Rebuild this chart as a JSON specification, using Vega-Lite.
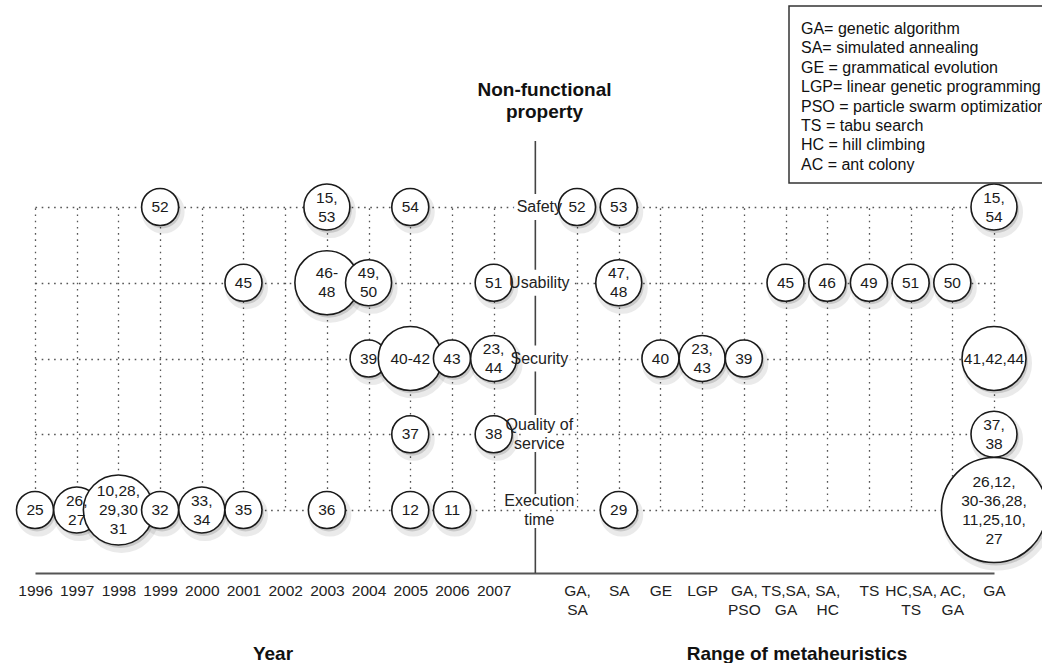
{
  "$schema": "https://vega.github.io/schema/vega-lite/v6.json",
  "width": 995,
  "height": 432,
  "autosize": "none",
  "padding": {"left": 15, "top": 141, "right": 32, "bottom": 90},
  "background": "white",
  "config": {
    "view": {"stroke": null},
    "font": "Liberation Sans",
    "legend": {"strokeWidth": 1.5}
  },
  "datasets": {
    "bubbles": [
      {"x": "1999", "prop": "Safety", "refs": "52", "n": 1},
      {"x": "2003", "prop": "Safety", "refs": "15,\n53", "n": 2},
      {"x": "2005", "prop": "Safety", "refs": "54", "n": 1},
      {"x": "2001", "prop": "Usability", "refs": "45", "n": 1},
      {"x": "2003", "prop": "Usability", "refs": "46-\n48", "n": 3},
      {"x": "2004", "prop": "Usability", "refs": "49,\n50", "n": 2},
      {"x": "2007", "prop": "Usability", "refs": "51", "n": 1},
      {"x": "2004", "prop": "Security", "refs": "39", "n": 1},
      {"x": "2005", "prop": "Security", "refs": "40-42", "n": 3},
      {"x": "2006", "prop": "Security", "refs": "43", "n": 1},
      {"x": "2007", "prop": "Security", "refs": "23,\n44", "n": 2},
      {"x": "2005", "prop": "Quality of service", "refs": "37", "n": 1},
      {"x": "2007", "prop": "Quality of service", "refs": "38", "n": 1},
      {"x": "1996", "prop": "Execution time", "refs": "25", "n": 1},
      {"x": "1997", "prop": "Execution time", "refs": "26,\n27", "n": 2},
      {"x": "1998", "prop": "Execution time", "refs": "10,28,\n29,30\n31", "n": 5},
      {"x": "1999", "prop": "Execution time", "refs": "32", "n": 1},
      {"x": "2000", "prop": "Execution time", "refs": "33,\n34", "n": 2},
      {"x": "2001", "prop": "Execution time", "refs": "35", "n": 1},
      {"x": "2003", "prop": "Execution time", "refs": "36", "n": 1},
      {"x": "2005", "prop": "Execution time", "refs": "12", "n": 1},
      {"x": "2006", "prop": "Execution time", "refs": "11", "n": 1},
      {"x": "GA, SA", "prop": "Safety", "refs": "52", "n": 1},
      {"x": "SA", "prop": "Safety", "refs": "53", "n": 1},
      {"x": "GA", "prop": "Safety", "refs": "15,\n54", "n": 2},
      {"x": "SA", "prop": "Usability", "refs": "47,\n48", "n": 2},
      {"x": "TS,SA, GA", "prop": "Usability", "refs": "45", "n": 1},
      {"x": "SA, HC", "prop": "Usability", "refs": "46", "n": 1},
      {"x": "TS", "prop": "Usability", "refs": "49", "n": 1},
      {"x": "HC,SA, TS", "prop": "Usability", "refs": "51", "n": 1},
      {"x": "AC, GA", "prop": "Usability", "refs": "50", "n": 1},
      {"x": "GE", "prop": "Security", "refs": "40", "n": 1},
      {"x": "LGP", "prop": "Security", "refs": "23,\n43", "n": 2},
      {"x": "GA, PSO", "prop": "Security", "refs": "39", "n": 1},
      {"x": "GA", "prop": "Security", "refs": "41,42,44", "n": 3},
      {"x": "GA", "prop": "Quality of service", "refs": "37,\n38", "n": 2},
      {"x": "SA", "prop": "Execution time", "refs": "29", "n": 1},
      {"x": "GA", "prop": "Execution time", "refs": "26,12,\n30-36,28,\n11,25,10,\n27", "n": 14}
    ],
    "props": [
      {"x": "mid", "prop": "Safety", "label": "Safety"},
      {"x": "mid", "prop": "Usability", "label": "Usability"},
      {"x": "mid", "prop": "Security", "label": "Security"},
      {"x": "mid", "prop": "Quality of service", "label": "Quality of\nservice"},
      {"x": "mid", "prop": "Execution time", "label": "Execution\ntime"}
    ],
    "abbr": [
      {"abbr": "GA= genetic algorithm"},
      {"abbr": "SA= simulated annealing"},
      {"abbr": "GE = grammatical evolution"},
      {"abbr": "LGP= linear genetic programming"},
      {"abbr": "PSO = particle swarm optimization"},
      {"abbr": "TS = tabu search"},
      {"abbr": "HC = hill climbing"},
      {"abbr": "AC = ant colony"}
    ]
  },
  "resolve": {"axis": {"x": "independent"}},
  "layer": [
    {
      "data": {"values": [{"x": "mid"}]},
      "mark": {"type": "rule", "color": "#444", "strokeWidth": 1.6},
      "encoding": {
        "x": {
          "field": "x", "type": "nominal",
          "axis": {
            "orient": "bottom", "labels": false, "ticks": false, "domain": false, "grid": false,
            "title": "Range of metaheuristics", "titleX": 781.5, "titleY": 80,
            "titleAlign": "center", "titleBaseline": "middle", "titleAngle": 0,
            "titleFontSize": 19, "titleFontWeight": "bold", "titleColor": "#111", "titleFont": "Liberation Sans"
          }
        }
      }
    },
    {
      "encoding": {
        "x": {
          "field": "x", "type": "nominal",
          "scale": {
            "type": "point", "padding": 0, "range": [20, 979],
            "domain": ["1996", "1997", "1998", "1999", "2000", "2001", "2002", "2003", "2004", "2005", "2006", "2007", "mid", "GA, SA", "SA", "GE", "LGP", "GA, PSO", "TS,SA, GA", "SA, HC", "TS", "HC,SA, TS", "AC, GA", "GA"]
          },
          "axis": {
            "orient": "bottom",
            "grid": true,
            "gridColor": {"condition": {"test": "datum.value === 'mid'", "value": "rgba(0,0,0,0)"}, "value": "#555"},
            "gridDash": [1.6, 4.6], "gridWidth": 1.3,
            "domain": true, "domainColor": "#555", "domainWidth": 1.8,
            "ticks": false, "tickSize": 0,
            "labelPadding": 10, "labelFontSize": 15.5, "labelColor": "#222", "labelFont": "Liberation Sans",
            "labelExpr": "datum.label === 'mid' ? '' : split(datum.label, ' ')",
            "labelLineHeight": 19, "labelOverlap": false, "labelBound": false, "labelFlush": false, "labelAngle": 0,
            "title": "Year", "titleX": 257.5, "titleY": 80, "titleAlign": "center", "titleBaseline": "middle",
            "titleFontSize": 19, "titleFontWeight": "bold", "titleColor": "#111", "titleFont": "Liberation Sans"
          }
        },
        "y": {
          "field": "prop", "type": "nominal",
          "scale": {
            "type": "point", "padding": 0, "range": [66, 369],
            "domain": ["Safety", "Usability", "Security", "Quality of service", "Execution time"]
          },
          "axis": {
            "grid": true, "gridColor": "#555", "gridDash": [1.6, 4.6], "gridWidth": 1.3,
            "domain": false, "ticks": false, "labels": false,
            "title": ["Non-functional", "property"], "titleAngle": 0, "titleX": 529, "titleY": -52,
            "titleAlign": "center", "titleBaseline": "middle", "titleLineHeight": 22,
            "titleFontSize": 19, "titleFontWeight": "bold", "titleColor": "#111", "titleFont": "Liberation Sans"
          }
        }
      },
      "layer": [
        {
          "data": {"name": "props"},
          "mark": {"type": "point", "shape": "square", "filled": true, "color": "white", "opacity": 1, "size": 676}
        },
        {
          "data": {"name": "props"},
          "transform": [{"filter": "indexof(datum.label, '\\n') < 0"}],
          "mark": {"type": "text", "fill": "white", "stroke": "white", "strokeWidth": 6, "fontSize": 16, "lineBreak": "\n", "lineHeight": 19, "baseline": "middle", "align": "center", "font": "Liberation Sans", "xOffset": 4},
          "encoding": {"text": {"field": "label"}}
        },
        {
          "data": {"name": "props"},
          "transform": [{"filter": "indexof(datum.label, '\\n') >= 0"}],
          "mark": {"type": "text", "fill": "white", "stroke": "white", "strokeWidth": 6, "fontSize": 16, "lineBreak": "\n", "lineHeight": 19, "baseline": "middle", "align": "center", "font": "Liberation Sans", "yOffset": -9.5, "xOffset": 4},
          "encoding": {"text": {"field": "label"}}
        },
        {
          "data": {"name": "bubbles"},
          "mark": {"type": "point", "shape": "circle", "filled": true, "color": "#000", "opacity": 0.08, "stroke": "#000", "strokeWidth": 6, "xOffset": 3, "yOffset": 5},
          "encoding": {
            "size": {"field": "n", "type": "quantitative", "legend": null,
              "scale": {"type": "linear", "zero": false, "nice": false, "domain": [1, 2, 3, 5, 14], "range": [1369, 2116, 4096, 4900, 11025]}}
          }
        },
        {
          "data": {"name": "bubbles"},
          "mark": {"type": "point", "shape": "circle", "filled": true, "color": "#000", "opacity": 0.14, "xOffset": 2, "yOffset": 3},
          "encoding": {
            "size": {"field": "n", "type": "quantitative", "legend": null}
          }
        },
        {
          "data": {"name": "bubbles"},
          "mark": {"type": "point", "shape": "circle", "filled": false, "fill": "white", "fillOpacity": 1, "stroke": "#1a1a1a", "strokeWidth": 1.6, "opacity": 1},
          "encoding": {
            "size": {"field": "n", "type": "quantitative", "legend": null}
          }
        },
        {
          "data": {"name": "props"},
          "transform": [{"filter": "indexof(datum.label, '\\n') < 0"}],
          "mark": {"type": "text", "color": "#222", "fontSize": 16, "lineBreak": "\n", "lineHeight": 19, "baseline": "middle", "align": "center", "font": "Liberation Sans", "xOffset": 4},
          "encoding": {"text": {"field": "label"}}
        },
        {
          "data": {"name": "props"},
          "transform": [{"filter": "indexof(datum.label, '\\n') >= 0"}],
          "mark": {"type": "text", "color": "#222", "fontSize": 16, "lineBreak": "\n", "lineHeight": 19, "baseline": "middle", "align": "center", "font": "Liberation Sans", "yOffset": -9.5, "xOffset": 4},
          "encoding": {"text": {"field": "label"}}
        },
        {
          "data": {"name": "bubbles"},
          "transform": [{"filter": "indexof(datum.refs, '\\n') < 0"}],
          "mark": {"type": "text", "color": "#1a1a1a", "fontSize": 15.5, "lineBreak": "\n", "lineHeight": 19, "baseline": "middle", "align": "center", "font": "Liberation Sans"},
          "encoding": {"text": {"field": "refs"}}
        },
        {
          "data": {"name": "bubbles"},
          "transform": [{"filter": "length(split(datum.refs, '\\n')) == 2"}],
          "mark": {"type": "text", "color": "#1a1a1a", "fontSize": 15.5, "lineBreak": "\n", "lineHeight": 19, "baseline": "middle", "align": "center", "font": "Liberation Sans", "yOffset": -9.5},
          "encoding": {"text": {"field": "refs"}}
        },
        {
          "data": {"name": "bubbles"},
          "transform": [{"filter": "length(split(datum.refs, '\\n')) == 3"}],
          "mark": {"type": "text", "color": "#1a1a1a", "fontSize": 15.5, "lineBreak": "\n", "lineHeight": 19, "baseline": "middle", "align": "center", "font": "Liberation Sans", "yOffset": -19},
          "encoding": {"text": {"field": "refs"}}
        },
        {
          "data": {"name": "bubbles"},
          "transform": [{"filter": "length(split(datum.refs, '\\n')) == 4"}],
          "mark": {"type": "text", "color": "#1a1a1a", "fontSize": 15.5, "lineBreak": "\n", "lineHeight": 19, "baseline": "middle", "align": "center", "font": "Liberation Sans", "yOffset": -28.5},
          "encoding": {"text": {"field": "refs"}}
        }
      ]
    },
    {
      "data": {"name": "abbr"},
      "mark": {"type": "point", "opacity": 0, "size": 0},
      "encoding": {
        "color": {
          "field": "abbr", "type": "nominal", "sort": null,
          "scale": {"range": ["white"]},
          "legend": {
            "title": " ", "titleFontSize": 5, "titlePadding": 0, "orient": "none", "legendX": 774, "legendY": -135,
            "labelFontSize": 16, "labelFont": "Liberation Sans", "labelColor": "#111", "labelLimit": 500,
            "symbolSize": 0, "symbolStrokeWidth": 0, "symbolOpacity": 0, "labelOffset": -14,
            "padding": 10, "rowPadding": 3.4, "strokeColor": "#333", "fillColor": "white"
          }
        }
      }
    }
  ]
}
